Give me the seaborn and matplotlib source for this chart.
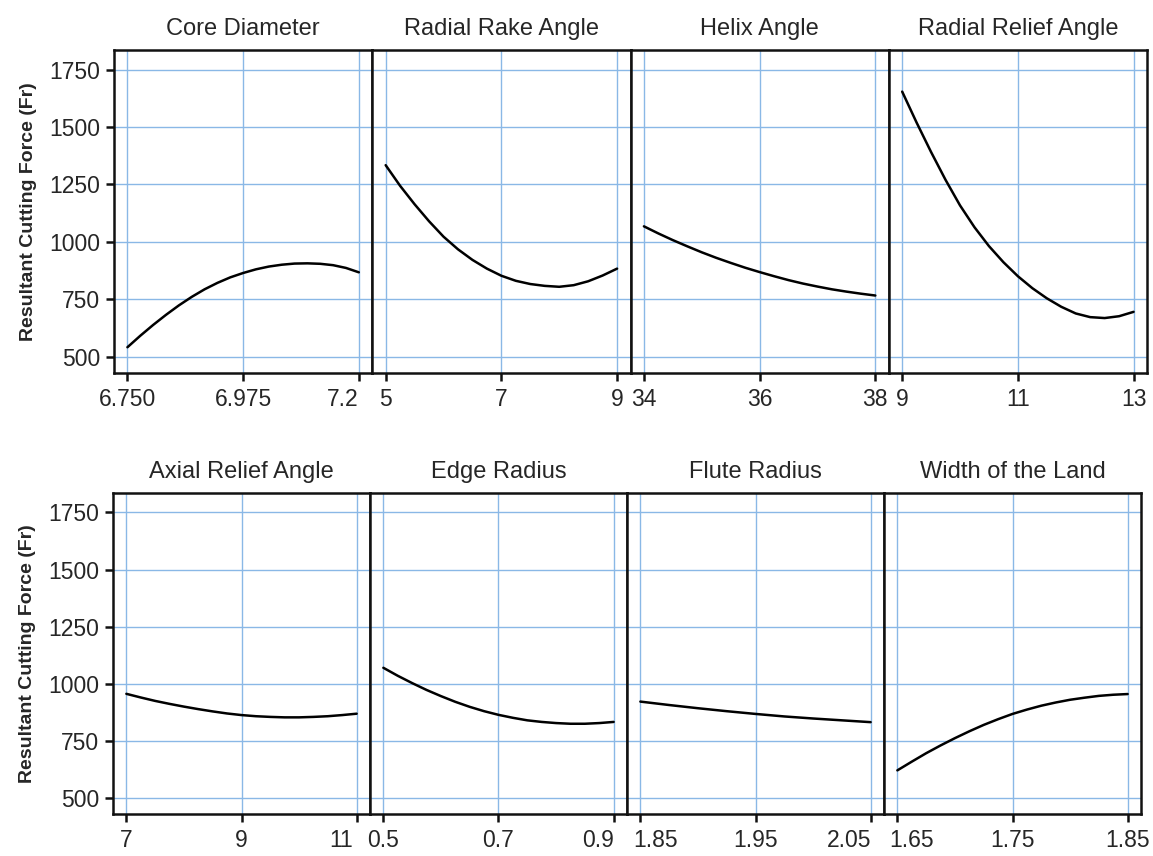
import matplotlib.pyplot as plt
import matplotlib.transforms as mtrans
import pandas as pd
import seaborn as sns

sns.set_style('white')
plt.rcParams['font.family'] = ['Liberation Sans', 'DejaVu Sans']

# values
y_ticks = [500, 750, 1000, 1250, 1500, 1750]
y_label = 'Resultant Cutting Force (Fr)'

core_x = [6.75, 6.775, 6.80, 6.825, 6.85, 6.875, 6.90, 6.925, 6.95, 6.975,
          7.00, 7.025, 7.05, 7.075, 7.10, 7.125, 7.15, 7.175, 7.20]
core_y = [542, 592, 639, 683, 724, 761, 794, 822, 846, 865,
          881, 893, 901, 906, 907, 905, 899, 887, 868]

rake_x = [5.0, 5.25, 5.5, 5.75, 6.0, 6.25, 6.5, 6.75, 7.0,
          7.25, 7.5, 7.75, 8.0, 8.25, 8.5, 8.75, 9.0]
rake_y = [1334, 1244, 1164, 1090, 1023, 968, 922, 884, 853,
          831, 817, 809, 805, 812, 829, 854, 884]

helix_x = [34, 34.25, 34.5, 34.75, 35, 35.25, 35.5, 35.75, 36,
           36.25, 36.5, 36.75, 37, 37.25, 37.5, 37.75, 38]
helix_y = [1068, 1037, 1008, 981, 955, 931, 909, 888, 869,
           851, 834, 819, 806, 794, 784, 775, 767]

rrelief_x = [9.0, 9.25, 9.5, 9.75, 10.0, 10.25, 10.5, 10.75, 11.0,
             11.25, 11.5, 11.75, 12.0, 12.25, 12.5, 12.75, 13.0]
rrelief_y = [1654, 1519, 1391, 1270, 1159, 1064, 982, 912, 851,
             799, 755, 718, 689, 673, 669, 677, 696]

arelief_x = [7.0, 7.25, 7.5, 7.75, 8.0, 8.25, 8.5, 8.75, 9.0,
             9.25, 9.5, 9.75, 10.0, 10.25, 10.5, 10.75, 11.0]
arelief_y = [956, 940, 925, 912, 900, 889, 879, 870, 863,
             858, 855, 853, 853, 855, 858, 863, 869]

edge_x = [0.50, 0.525, 0.55, 0.575, 0.60, 0.625, 0.65, 0.675, 0.70,
          0.725, 0.75, 0.775, 0.80, 0.825, 0.85, 0.875, 0.90]
edge_y = [1070, 1035, 1003, 973, 946, 921, 899, 880, 864,
          851, 840, 833, 828, 825, 825, 828, 833]

flute_x = [1.85, 1.875, 1.90, 1.925, 1.95, 1.975, 2.00, 2.025, 2.05]
flute_y = [922, 907, 893, 880, 868, 857, 848, 840, 832]

land_x = [1.65, 1.6625, 1.675, 1.6875, 1.70, 1.7125, 1.725, 1.7375, 1.75,
          1.7625, 1.775, 1.7875, 1.80, 1.8125, 1.825, 1.8375, 1.85]
land_y = [621, 659, 696, 730, 762, 792, 820, 845, 868,
          887, 904, 918, 930, 939, 947, 952, 955]

panels = [
    ('Core Diameter', core_x, core_y, [6.750, 6.975, 7.2], ['6.750', '6.975', '7.2']),
    ('Radial Rake Angle', rake_x, rake_y, [5, 7, 9], ['5', '7', '9']),
    ('Helix Angle', helix_x, helix_y, [34, 36, 38], ['34', '36', '38']),
    ('Radial Relief Angle', rrelief_x, rrelief_y, [9, 11, 13], ['9', '11', '13']),
    ('Axial Relief Angle', arelief_x, arelief_y, [7, 9, 11], ['7', '9', '11']),
    ('Edge Radius', edge_x, edge_y, [0.5, 0.7, 0.9], ['0.5', '0.7', '0.9']),
    ('Flute Radius', flute_x, flute_y, [1.85, 1.95, 2.05], ['1.85', '1.95', '2.05']),
    ('Width of the Land', land_x, land_y, [1.65, 1.75, 1.85], ['1.65', '1.75', '1.85']),
]

# labels nudged sideways so neighbouring panels don't collide (pixels)
label_shift = {(0, 2): -16, (4, 2): -16, (5, 2): -16, (6, 0): 15, (6, 2): -22, (7, 0): 14}

W, H = 1153, 856
fig = plt.figure(figsize=(W / 100, H / 100), dpi=100)

# pixel boxes of the two rows: left, right, top, bottom
rows = [(114, 1147, 50, 373), (113, 1141, 493, 814)]
grid_col = '#8ab8e6'
ink = '#111111'

for i, (title, xs, ys, ticks, labels) in enumerate(panels):
    r, c = divmod(i, 4)
    left, right, top, bottom = rows[r]
    pw = (right - left) / 4
    ax = fig.add_axes([(left + c * pw) / W, 1 - bottom / H, pw / W, (bottom - top) / H])

    df = pd.DataFrame({'x': xs, 'y': ys})
    sns.lineplot(data=df, x='x', y='y', ax=ax, color='black', linewidth=1.8)

    span = ticks[-1] - ticks[0]
    ax.set_xlim(ticks[0] - 0.058 * span, ticks[-1] + 0.058 * span)
    ax.set_ylim(430, 1835)
    ax.set_xticks(ticks)
    ax.set_xticklabels(labels)
    ax.set_yticks(y_ticks)
    ax.grid(True, color=grid_col, linewidth=1.0)
    ax.set_axisbelow(True)
    ax.set_xlabel('')
    ax.set_title(title, fontsize=17, pad=11)

    for s in ax.spines.values():
        s.set_visible(True)
        s.set_color(ink)
        s.set_linewidth(1.8)

    ax.tick_params(axis='x', bottom=True, direction='out', length=6, width=1.8,
                   labelsize=16.5, pad=5, color=ink)
    for j, lab in enumerate(ax.get_xticklabels()):
        dx = label_shift.get((i, j))
        if dx:
            lab.set_transform(lab.get_transform() +
                              mtrans.ScaledTranslation(dx / 100, 0, fig.dpi_scale_trans))

    if c == 0:
        ax.tick_params(axis='y', left=True, direction='out', length=6, width=1.8,
                       labelsize=16.5, pad=4, color=ink)
        ax.set_ylabel(y_label, fontsize=14, fontweight='bold', labelpad=9)
    else:
        ax.tick_params(axis='y', left=False, labelleft=False)
        ax.set_ylabel('')

fig.savefig('out.png', dpi=100)
